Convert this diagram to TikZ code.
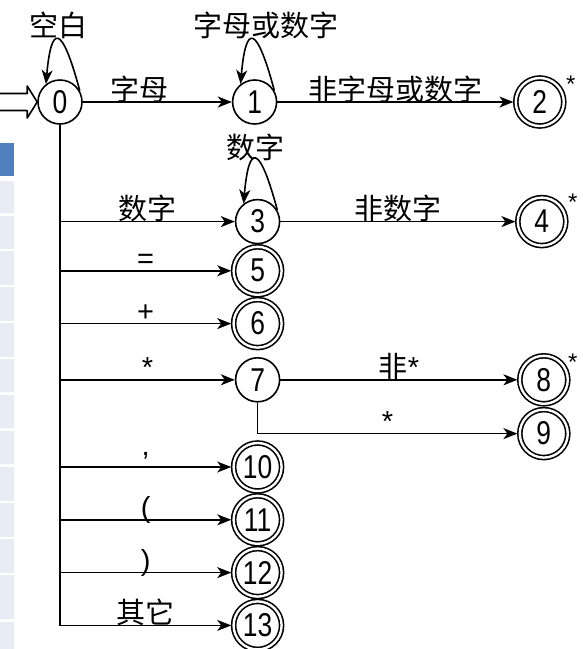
\documentclass[tikz,border=0pt]{standalone}
\usepackage{fontspec}
\setmainfont{Liberation Sans}
\newfontfamily\cjk{Noto Sans CJK SC}
\newfontfamily\digitfont[FakeStretch=0.8]{Liberation Sans}
\usetikzlibrary{arrows.meta,calc,positioning}
\definecolor{cellblue}{rgb}{0.31, 0.50, 0.74}
\definecolor{celllight}{rgb}{0.91, 0.93, 0.96}
\tikzset{
  estado/.style={
    circle,
    draw,
    line width=1.6pt,
    minimum size=44pt,
    inner sep=0pt,
    font=\digitfont\fontsize{33pt}{33pt}\selectfont
  },
  final/.style={
    estado,
    minimum size=48pt,
    double,
    double distance=2.4pt,
    outer sep=2.4pt
  },
  arrow/.style={
    -{Stealth[length=14pt,width=11pt,inset=4pt]},
    line width=1.6pt
  },
  etiqueta/.style={
    font=\fontsize{29pt}{29pt}\selectfont,
    inner sep=0pt,
    anchor=base,
    yshift=2pt
  },
  lazoetq/.style={
    font=\fontsize{29pt}{29pt}\selectfont,
    inner sep=0pt,
    anchor=south
  },
  lazo/.style={
    out=105,
    in=85,
    out distance=70pt,
    in distance=60pt
  },
  marca/.style={
    font=\fontsize{24pt}{24pt}\selectfont,
    inner sep=0pt
  },
  entrada/.style={
    line width=1.6pt,
    line join=round
  }
}

\begin{document}
\begin{tikzpicture}[x=1pt,y=1pt]
\useasboundingbox (0,0) rectangle (583,-649);
% strip of table cells at the left edge
\fill[cellblue] (0,-143) rectangle (14,-176);
\fill[celllight] (0,-181) rectangle (14,-213) (0,-216) rectangle (14,-249)
  (0,-251) rectangle (14,-285) (0,-287) rectangle (14,-321)
  (0,-323) rectangle (14,-357) (0,-359) rectangle (14,-392)
  (0,-395) rectangle (14,-428) (0,-431) rectangle (14,-464)
  (0,-467) rectangle (14,-501) (0,-503) rectangle (14,-537)
  (0,-539) rectangle (14,-573) (0,-575) rectangle (14,-619)
  (0,-622) rectangle (14,-652);

% states
\node[estado] (q0) at (60,-102) {0};
\node[estado, right=149pt of q0] (q1) {1};
\node[final, right=236pt of q1] (q2) {2};
\node[estado, below=74pt of q1, xshift=3pt] (q3) {3};
\node[final, right=235pt of q3] (q4) {4};
\node[final, below=0pt of q3] (q5) {5};
\node[final, below=0pt of q5] (q6) {6};
\node[estado, below=7pt of q6] (q7) {7};
\node[final, right=237pt of q7] (q8) {8};
\node[final, below=1pt of q8] (q9) {9};
\node[final, below=38pt of q7] (q10) {10};
\node[final, below=0pt of q10] (q11) {11};
\node[final, below=0pt of q11] (q12) {12};
\node[final, below=0pt of q12] (q13) {13};

% retract marks
\node[marca] (m2) at ($(q2)+(31,17.5)$) {*};
\node[marca] (m4) at ($(q4)+(31,19)$) {*};
\node[marca] (m8) at ($(q8)+(29,17.5)$) {*};

% start arrow
\draw[entrada] ($(q0.west)+(-40,8.5)$) -- ++(30,0) -- ++(0,7.5) -- (q0.west)
  -- ++(-10,-16) -- ++(0,7.5) -- ++(-30,0);

% loops
\draw[arrow] (q0.30) to[lazo] node[lazoetq, midway] {\cjk 空白} (q0.128);
\draw[arrow] (q1.30) to[lazo] node[lazoetq, midway, xshift=13pt] {\cjk 字母或数字} (q1.128);
\draw[arrow] (q3.30) to[lazo] node[lazoetq, midway, yshift=-3pt] {\cjk 数字} (q3.128);

% transitions
\draw[arrow] (q0) -- (q1) node[etiqueta, pos=0.38] {\cjk 字母};
\draw[arrow] (q1) -- (q2) node[etiqueta, midway] {\cjk 非字母或数字};
\draw[arrow] (q3) -- (q4) node[etiqueta, midway] {\cjk 非数字};
\draw[arrow] (q7) -- (q8) node[etiqueta, midway] {{\cjk 非}*};
\draw[arrow] (q7) |- (q9) node[etiqueta, pos=0.75] {*};

\draw[arrow] (q0) |- (q13) node[etiqueta, pos=0.75] {\cjk 其它};
\draw[arrow] (q0 |- q3) -- (q3) node[etiqueta, midway] {\cjk 数字};
\draw[arrow] (q0 |- q5) -- (q5) node[etiqueta, midway] {=};
\draw[arrow] (q0 |- q6) -- (q6) node[etiqueta, midway] {+};
\draw[arrow] (q0 |- q7) -- (q7) node[etiqueta, midway] {*};
\draw[arrow] (q0 |- q10) -- (q10) node[etiqueta, midway, yshift=10pt] {,};
\draw[arrow] (q0 |- q11) -- (q11) node[etiqueta, midway] {(};
\draw[arrow] (q0 |- q12) -- (q12) node[etiqueta, midway] {)};
\end{tikzpicture}
\end{document}
